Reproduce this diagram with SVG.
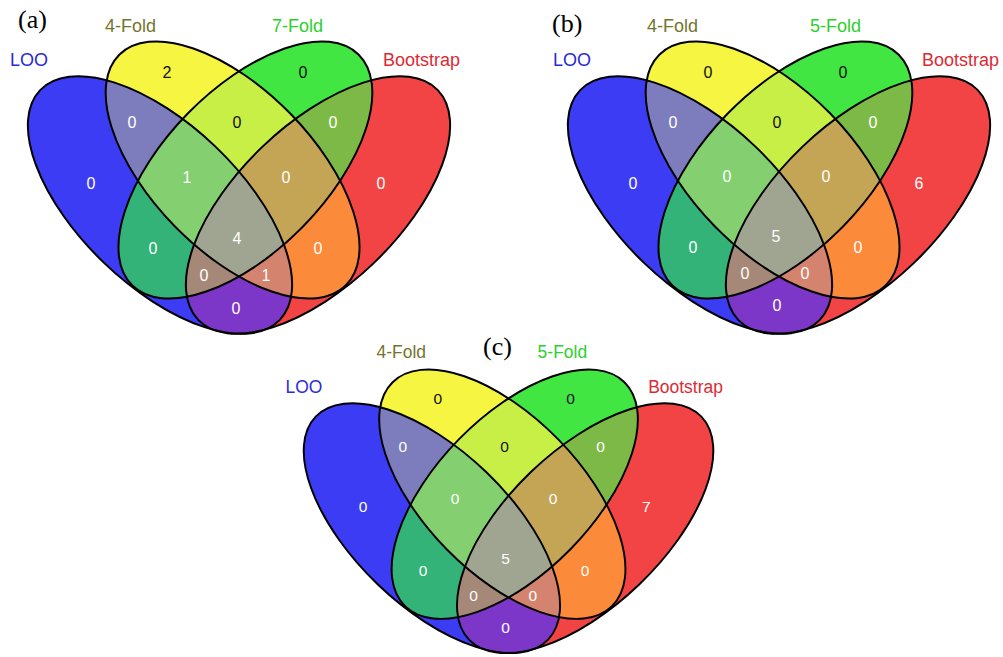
<svg xmlns="http://www.w3.org/2000/svg" xmlns:xlink="http://www.w3.org/1999/xlink" width="1003" height="657" viewBox="0 0 1003 657">
<style>
.lbl{font-family:"Liberation Sans",Arial,sans-serif;font-size:18px}
.loo{fill:#2a2ad8}.f4{fill:#74742c}.f7{fill:#2ccf2c}.bs{fill:#dc2a34}
.num{font-family:"Liberation Sans",Arial,sans-serif;font-size:16px;text-anchor:middle;fill:#ffffff}
.num.dk{fill:#111111}
.tag{font-family:"Liberation Serif","Times New Roman",serif;font-size:26px;fill:#000}
.ol{fill:none;stroke:#000;stroke-width:2}
</style>
<defs>
  <ellipse id="eA" cx="0" cy="0" rx="166" ry="80.5" transform="translate(160,205) rotate(43.8)"/>
  <ellipse id="eB" cx="0" cy="0" rx="161.6" ry="80.7" transform="translate(232.6,170) rotate(45.6)"/>
  <ellipse id="eC" cx="0" cy="0" rx="161.6" ry="80.7" transform="translate(245.4,170) rotate(-45.6)"/>
  <ellipse id="eD" cx="0" cy="0" rx="166" ry="80.5" transform="translate(318,205) rotate(-43.8)"/>
  <clipPath id="cB"><use href="#eB"/></clipPath>
  <clipPath id="cC"><use href="#eC"/></clipPath>
  <clipPath id="cD"><use href="#eD"/></clipPath>
  <g id="venn">
    <use href="#eA" fill="#3c3cf5"/>
    <use href="#eB" fill="#f5f542"/>
    <use href="#eC" fill="#42e642"/>
    <use href="#eD" fill="#f24444"/>
    <use href="#eA" clip-path="url(#cB)" fill="#7d7dbe"/>
    <use href="#eA" clip-path="url(#cC)" fill="#33b377"/>
    <use href="#eA" clip-path="url(#cD)" fill="#7d37c8"/>
    <use href="#eB" clip-path="url(#cC)" fill="#c8ef46"/>
    <use href="#eB" clip-path="url(#cD)" fill="#fb8a3a"/>
    <use href="#eC" clip-path="url(#cD)" fill="#7db946"/>
    <g clip-path="url(#cC)"><use href="#eA" clip-path="url(#cB)" fill="#84d070"/></g>
    <g clip-path="url(#cD)"><use href="#eA" clip-path="url(#cB)" fill="#d4836f"/></g>
    <g clip-path="url(#cD)"><use href="#eA" clip-path="url(#cC)" fill="#a58878"/></g>
    <g clip-path="url(#cD)"><use href="#eB" clip-path="url(#cC)" fill="#c3a555"/></g>
    <g clip-path="url(#cD)"><g clip-path="url(#cC)"><use href="#eA" clip-path="url(#cB)" fill="#a0a592"/></g></g>
    <use href="#eA" class="ol"/>
    <use href="#eB" class="ol"/>
    <use href="#eC" class="ol"/>
    <use href="#eD" class="ol"/>
  </g>
</defs>

<g id="panel-a">
  <use href="#venn"/>
  <text class="tag" x="18" y="28">(a)</text>
  <text class="lbl f4" x="105" y="32">4-Fold</text>
  <text class="lbl f7" x="272" y="32">7-Fold</text>
  <text class="lbl loo" x="10" y="66">LOO</text>
  <text class="lbl bs" x="383" y="66">Bootstrap</text>
  <text class="num dk" x="167" y="78">2</text>
  <text class="num dk" x="303" y="78">0</text>
  <text class="num" x="132" y="128">0</text>
  <text class="num dk" x="237" y="128">0</text>
  <text class="num" x="333" y="128">0</text>
  <text class="num" x="91" y="189">0</text>
  <text class="num" x="187" y="183">1</text>
  <text class="num" x="286" y="183">0</text>
  <text class="num" x="381" y="189">0</text>
  <text class="num" x="237" y="244">4</text>
  <text class="num" x="153" y="254">0</text>
  <text class="num" x="318" y="254">0</text>
  <text class="num" x="204" y="281">0</text>
  <text class="num" x="266" y="281">1</text>
  <text class="num" x="236" y="314">0</text>
</g>

<g id="panel-b" transform="translate(540,0)">
  <use href="#venn"/>
  <text class="lbl f4" x="107" y="32">4-Fold</text>
  <text class="lbl f7" x="270" y="32">5-Fold</text>
  <text class="lbl loo" x="13" y="66">LOO</text>
  <text class="lbl bs" x="382" y="66">Bootstrap</text>
  <text class="num dk" x="168" y="78">0</text>
  <text class="num dk" x="303" y="78">0</text>
  <text class="num" x="133" y="128">0</text>
  <text class="num dk" x="237" y="128">0</text>
  <text class="num" x="333" y="128">0</text>
  <text class="num" x="93" y="189">0</text>
  <text class="num" x="187" y="182">0</text>
  <text class="num" x="286" y="182">0</text>
  <text class="num" x="379" y="189">6</text>
  <text class="num" x="236" y="242">5</text>
  <text class="num" x="153" y="253">0</text>
  <text class="num" x="318" y="253">0</text>
  <text class="num" x="205" y="279">0</text>
  <text class="num" x="265" y="279">0</text>
  <text class="num" x="237" y="311">0</text>
</g>
<text class="tag" x="552" y="32">(b)</text>

<g id="panel-c" transform="translate(276.7,329.3) scale(0.97)">
  <use href="#venn"/>
  <text class="lbl f4" x="103" y="30">4-Fold</text>
  <text class="lbl f7" x="269" y="30">5-Fold</text>
  <text class="lbl loo" x="9" y="66">LOO</text>
  <text class="lbl bs" x="383" y="66">Bootstrap</text>
  <text class="num dk" x="166" y="77">0</text>
  <text class="num dk" x="303" y="77">0</text>
  <text class="num" x="130" y="127">0</text>
  <text class="num dk" x="235" y="127">0</text>
  <text class="num" x="334" y="127">0</text>
  <text class="num" x="89" y="188">0</text>
  <text class="num" x="184" y="180">0</text>
  <text class="num" x="285" y="180">0</text>
  <text class="num" x="381" y="188">7</text>
  <text class="num" x="236" y="242">5</text>
  <text class="num" x="151" y="254">0</text>
  <text class="num" x="318" y="254">0</text>
  <text class="num" x="203" y="280">0</text>
  <text class="num" x="264" y="280">0</text>
  <text class="num" x="236" y="313">0</text>
</g>
<text class="tag" x="483" y="355">(c)</text>
</svg>
